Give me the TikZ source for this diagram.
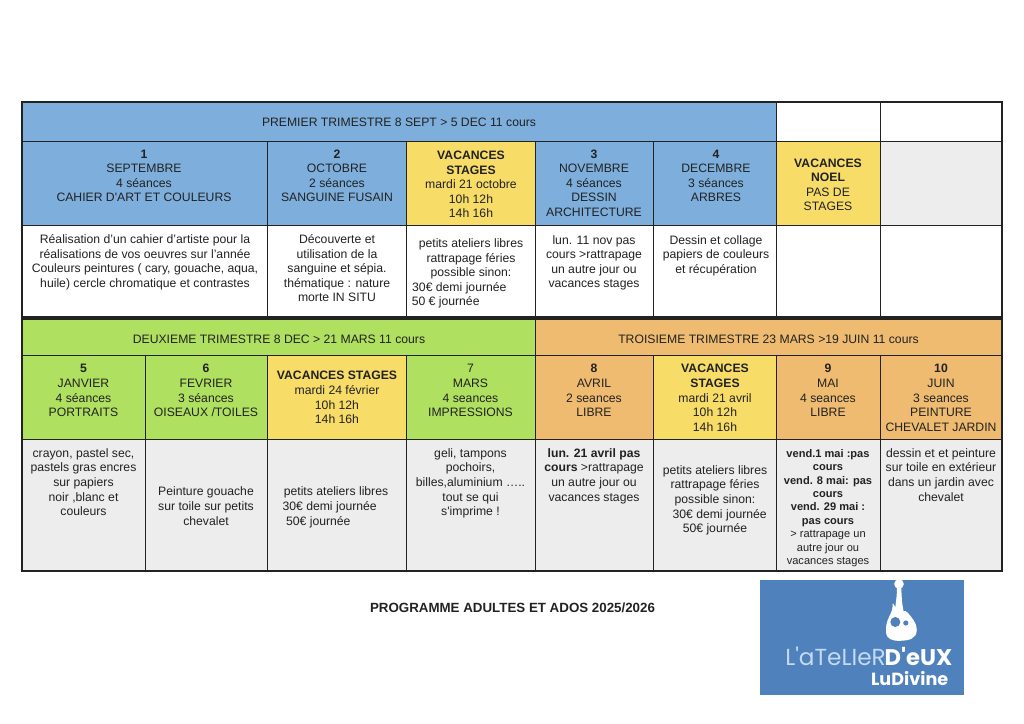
\documentclass[tikz,border=0pt]{standalone}
\usepackage{fontspec}
\newfontfamily\hv{Liberation Sans}
\newfontfamily\pop{Poppins}
\definecolor{bluec}{HTML}{7DAEDC}
\definecolor{yelc}{HTML}{F8DC68}
\definecolor{grnc}{HTML}{B0E060}
\definecolor{orac}{HTML}{EFBB70}
\definecolor{gryc}{HTML}{EDEDED}
\definecolor{ink}{HTML}{222222}
\definecolor{logob}{HTML}{4F81BD}
\definecolor{logol}{HTML}{C4DAF0}
\newcommand{\fs}{\hv\fontsize{9.15}{10.95}\selectfont}
\newcommand{\fm}{\hv\fontsize{8.3}{10.05}\selectfont}
\tikzset{
 cellbox/.style={draw=ink,line width=0.75pt,inner sep=0pt,outer sep=0pt},
 txt/.style={anchor=north,inner sep=0pt,outer sep=0pt,align=center,text=ink,font=\fs,yshift=4.1pt},
}
% name, x1, y1, x2, y2, fill
\newcommand{\cellat}[6]{%
 \pgfmathsetmacro{\cw}{(#4-#2)*0.75}\pgfmathsetmacro{\ch}{(#5-#3)*0.75}%
 \node[cellbox,fill=#6,minimum width=\cw pt,minimum height=\ch pt] (#1) at ({(#2+#4)/2},{(#3+#5)/2}) {};}
% name, x, first-line centre y, text
\newcommand{\tx}[5][]{\node[txt,#1] (#2) at (#3,#4) {\rule{0pt}{7.5pt}#5};}
\begin{document}
\begin{tikzpicture}[x=0.75pt,y=-0.75pt]
\useasboundingbox (0,0) rectangle (1024,724);
% row 1
\cellat{h1}{22}{102}{776}{141}{bluec}
\cellat{h1b}{776}{102}{880}{141}{white}
\cellat{h1c}{880}{102}{1002}{141}{white}
\cellat{a1}{22}{141}{267}{225}{bluec}
\cellat{a2}{267}{141}{406}{225}{bluec}
\cellat{a3}{406}{141}{535}{225}{yelc}
\cellat{a4}{535}{141}{653}{225}{bluec}
\cellat{a5}{653}{141}{776}{225}{bluec}
\cellat{a6}{776}{141}{880}{225}{yelc}
\cellat{a7}{880}{141}{1002}{225}{gryc}
\cellat{b1}{22}{225}{267}{318}{white}
\cellat{b2}{267}{225}{406}{318}{white}
\cellat{b3}{406}{225}{535}{318}{white}
\cellat{b4}{535}{225}{653}{318}{white}
\cellat{b5}{653}{225}{776}{318}{white}
\cellat{b6}{776}{225}{880}{318}{white}
\cellat{b7}{880}{225}{1002}{318}{white}
% row 2
\cellat{h2}{22}{318}{535}{355}{grnc}
\cellat{h3}{535}{318}{1002}{355}{orac}
\cellat{c1}{22}{355}{145}{439}{grnc}
\cellat{c2}{145}{355}{267}{439}{grnc}
\cellat{c3}{267}{355}{406}{439}{yelc}
\cellat{c4}{406}{355}{535}{439}{grnc}
\cellat{c5}{535}{355}{653}{439}{orac}
\cellat{c6}{653}{355}{776}{439}{yelc}
\cellat{c7}{776}{355}{880}{439}{orac}
\cellat{c8}{880}{355}{1002}{439}{orac}
\cellat{d1}{22}{439}{145}{571}{gryc}
\cellat{d2}{145}{439}{267}{571}{gryc}
\cellat{d3}{267}{439}{406}{571}{gryc}
\cellat{d4}{406}{439}{535}{571}{gryc}
\cellat{d5}{535}{439}{653}{571}{gryc}
\cellat{d6}{653}{439}{776}{571}{gryc}
\cellat{d7}{776}{439}{880}{571}{gryc}
\cellat{d8}{880}{439}{1002}{571}{gryc}
% heavy rules
\draw[ink,line width=2.5pt] (b1.south west) -- (b7.south east);
\draw[ink,line width=1pt] (h1.north west) -- (h1c.north east) -- (d8.south east) -- (d1.south west) -- cycle;
% texts
\tx{th1}{399}{122}{PREMIER TRIMESTRE 8 SEPT > 5 DEC 11 cours}
\tx{th2}{279}{339}{DEUXIEME TRIMESTRE 8 DEC > 21 MARS 11 cours}
\tx{th3}{768.5}{339}{TROISIEME TRIMESTRE 23 MARS >19 JUIN 11 cours}
\tx{ta1}{144}{153.5}{\textbf{1}\\SEPTEMBRE\\4 séances\\CAHIER D'ART ET COULEURS}
\tx{ta2}{337}{153.5}{\textbf{2}\\OCTOBRE\\2 séances\\SANGUINE FUSAIN}
\tx{ta3}{471}{155}{\textbf{VACANCES}\\\textbf{STAGES}\\mardi 21 octobre\\10h 12h\\14h 16h}
\tx{ta4}{594}{153.5}{\textbf{3}\\NOVEMBRE\\4 séances\\DESSIN\\ARCHITECTURE}
\tx{ta5}{716}{153.5}{\textbf{4}\\DECEMBRE\\3 séances\\ARBRES}
\tx{ta6}{828}{162.5}{\textbf{VACANCES}\\\textbf{NOEL}\\PAS DE\\STAGES}
\tx{tb1}{145}{239}{Réalisation d’un cahier d’artiste pour la\\réalisations de vos oeuvres sur l’année\\Couleurs peintures ( cary, gouache, aqua,\\huile) cercle chromatique et contrastes}
\tx{tb2}{337}{239}{Découverte et\\utilisation de la\\sanguine et sépia.\\thématique : nature\\morte IN SITU}
\tx{tb3}{471}{243}{petits ateliers libres\\rattrapage féries\\possible sinon:\\\hspace*{-17.5pt}30€ demi journée\\\hspace*{-38pt}50 € journée}
\tx{tb4}{594}{239.5}{lun. 11 nov pas\\cours >rattrapage\\un autre jour ou\\vacances stages}
\tx{tb5}{716}{239.5}{Dessin et collage\\papiers de couleurs\\et récupération}
\tx{tc1}{83.5}{368.3}{\textbf{5}\\JANVIER\\4 séances\\PORTRAITS}
\tx{tc2}{206}{368.3}{\textbf{6}\\FEVRIER\\3 séances\\OISEAUX /TOILES}
\tx{tc3}{337}{375.3}{\textbf{VACANCES STAGES}\\mardi 24 février\\10h 12h\\14h 16h}
\tx{tc4}{470.5}{368.3}{7\\MARS\\4 seances\\IMPRESSIONS}
\tx{tc5}{594}{368.3}{\textbf{8}\\AVRIL\\2 seances\\LIBRE}
\tx{tc6}{715}{368.3}{\textbf{VACANCES}\\\textbf{STAGES}\\mardi 21 avril\\10h 12h\\14h 16h}
\tx{tc7}{828}{368.3}{\textbf{9}\\MAI\\4 seances\\LIBRE}
\tx{tc8}{941}{368.3}{\textbf{10}\\JUIN\\3 seances\\PEINTURE\\CHEVALET JARDIN}
\tx{td1}{83.5}{452.7}{crayon, pastel sec,\\pastels gras encres\\sur papiers\\noir ,blanc et\\couleurs}
\tx{td2}{206}{491.3}{Peinture gouache\\sur toile sur petits\\chevalet}
\tx{td3}{336}{491.3}{petits ateliers libres\\\hspace*{-9.5pt}30€ demi journée\\\hspace*{-26.5pt}50€ journée}
\tx{td4}{470.5}{452.7}{geli, tampons\\pochoirs,\\billes,aluminium …..\\tout se qui\\s'imprime !}
\tx{td5}{594}{452.7}{\textbf{lun. 21 avril pas}\\\textbf{cours} >rattrapage\\un autre jour ou\\vacances stages}
\tx{td6}{715}{469.7}{petits ateliers libres\\rattrapage féries\\possible sinon:\\\hspace*{7pt}30€ demi journée\\50€ journée}
\tx[font=\fm]{td7}{828}{452.7}{\textbf{vend.1 mai :pas}\\\textbf{cours}\\\textbf{vend. 8 mai: pas}\\\textbf{cours}\\\textbf{vend. 29 mai :}\\\textbf{pas cours}\\> rattrapage un\\autre jour ou\\vacances stages}
\tx{td8}{941}{452.7}{dessin et et peinture\\sur toile en extérieur\\dans un jardin avec\\chevalet}
\tx[font=\hv\fontsize{10}{12}\selectfont]{title}{512.5}{608}{\textbf{PROGRAMME ADULTES ET ADOS 2025/2026}}
% logo
\fill[logob] (760,579.5) rectangle (964,695);
\fill[white] (899,584) circle (4.8);
\fill[white] (896.8,587) .. controls (897.3,596) and (895.5,602) .. (895.5,607)
  .. controls (894.5,606) and (893.5,604) .. (892.8,603)
  .. controls (892.5,609) and (892,611) .. (889.5,616)
  .. controls (887,621) and (885.5,626) .. (886,632)
  .. controls (886.5,639) and (892,641) .. (900,640.8)
  .. controls (909,640.5) and (916.5,639) .. (916.8,630)
  .. controls (917,623) and (912,618) .. (908,613)
  .. controls (906,610.5) and (905,611) .. (903.5,611)
  .. controls (902,604) and (901.5,596) .. (901.3,587) -- cycle;
\fill[logob] (895.3,622) circle (5);
\fill[logob] (905.8,623) circle (2.6);
\node[anchor=base west,inner sep=0pt,font=\pop\fontsize{17.4}{18}\selectfont,text=logol] (lg1) at (785,665) {L'aTeLIeR};
\node[anchor=base east,inner sep=0pt,font=\pop\bfseries\fontsize{17}{18}\selectfont,text=white] (lg2) at (952.5,665) {D'eUX};
\node[anchor=base east,inner sep=0pt,font=\pop\bfseries\fontsize{13.2}{14}\selectfont,text=white] (lg3) at (948.5,685) {LuDivine};
\end{tikzpicture}
\end{document}
